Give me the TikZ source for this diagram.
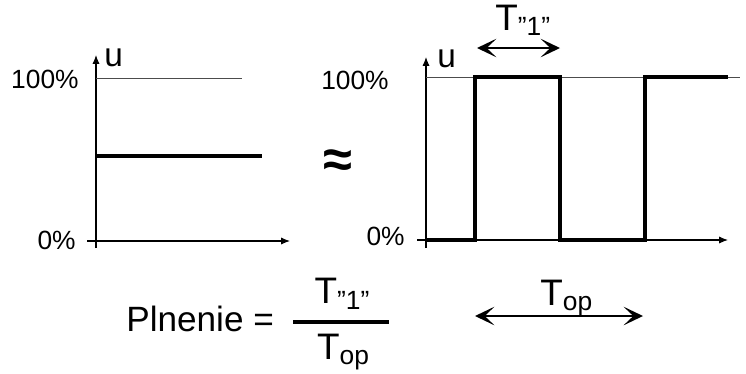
\documentclass[tikz,border=0pt]{standalone}
\usepackage{fontspec}
\setmainfont{Liberation Sans}
\usetikzlibrary{arrows.meta}
\newcommand{\Tsub}[1]{T\raisebox{-0.3ex}{\fontsize{15}{15}\selectfont #1}}

\begin{document}
\begin{tikzpicture}[x=0.02cm, y=-0.02cm,
	axis/.style={line width=0.6pt, -{Latex[length=5pt, width=4pt]}},
	level/.style={line width=0.5pt, black!70},
	signal/.style={line width=2.4pt},
	span/.style={line width=1.6pt, {Stealth[length=11pt, width=10.5pt, inset=5.5pt]}-{Stealth[length=11pt, width=10.5pt, inset=5.5pt]}},
	lbl/.style={font=\fontsize{15}{16}\selectfont, inner sep=0pt},
	big/.style={font=\fontsize{21}{22}\selectfont, inner sep=0pt}]
	\useasboundingbox (0,0) rectangle (746,373);
	% Left graph: constant level
	\coordinate (lyb) at (96,248);
	\coordinate (lyt) at (96,55);
	\coordinate (lxl) at (87,241);
	\coordinate (lxr) at (290,241);
	\draw[axis] (lyb) -- (lyt);
	\draw[axis] (lxl) -- (lxr);
	\draw[level] (96,78) -- (242,78);
	\draw[signal] (96,156) -- (262,156);
	\node[lbl, anchor=east] (lfull) at (79,79) {100\%};
	\node[lbl, anchor=east] (lzero) at (76,240) {0\%};
	\node[lbl, font=\fontsize{19}{19}\selectfont, anchor=base west] (lu) at (104,66) {u};
	% Approximation sign
	\node[font=\fontsize{30}{30}\selectfont\bfseries, inner sep=0pt] (approx) at (338,164) {≈};
	% Right graph: PWM signal
	\coordinate (ryb) at (426,248);
	\coordinate (ryt) at (426,57);
	\coordinate (rxl) at (417,240);
	\coordinate (rxr) at (728,240);
	\draw[axis] (ryb) -- (ryt);
	\draw[axis] (rxl) -- (rxr);
	\draw[level] (426,77) -- (740,77);
	\draw[signal] (426,240) -- (475,240) -- (475,77) -- (560,77) -- (560,240)
		-- (645,240) -- (645,77) -- (728,77);
	\node[lbl, anchor=east] (rfull) at (389,80) {100\%};
	\node[lbl, anchor=east] (rzero) at (405,236) {0\%};
	\node[lbl, font=\fontsize{19}{19}\selectfont, anchor=base west] (ru) at (437,67) {u};
	% Pulse width
	\coordinate (pl) at (477,48);
	\coordinate (pr) at (560,48);
	\draw[span] (pl) -- (pr);
	\node[big, anchor=base west] (tone) at (495,30) {\Tsub{”1”}};
	% Period
	\coordinate (opl) at (475,316);
	\coordinate (opr) at (643,316);
	\draw[span] (opl) -- (opr);
	\node[big, anchor=base west] (top) at (540,305) {\Tsub{op}};
	% Duty cycle formula
	\node[big, font=\fontsize{20}{21}\selectfont, anchor=base west] (plnenie) at (126,331) {Plnenie =};
	\coordinate (barl) at (293,322);
	\coordinate (barr) at (389,322);
	\draw[line width=1.8pt] (barl) -- (barr);
	\node[big] (num) at (342,294) {\Tsub{”1”}};
	\node[big] (den) at (343,352) {\Tsub{op}};
\end{tikzpicture}
\end{document}
